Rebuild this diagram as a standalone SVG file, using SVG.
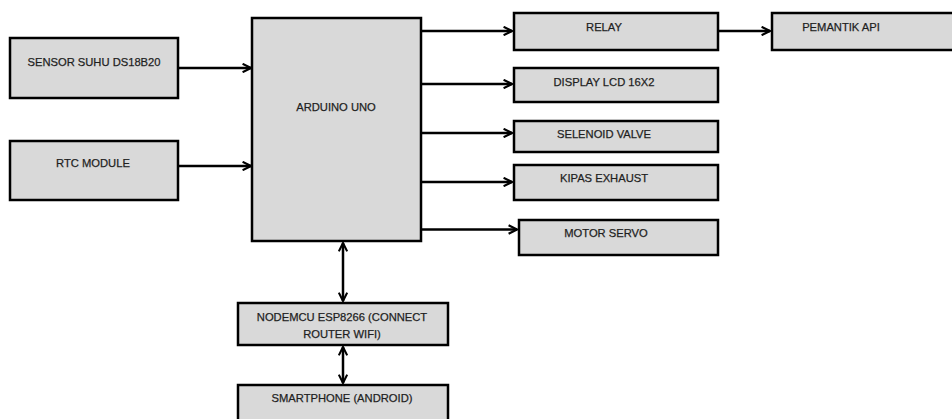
<svg xmlns="http://www.w3.org/2000/svg" width="952" height="419" viewBox="0 0 952 419">
<defs>
<style>
.box{fill:#d9d9d9;stroke:#000;stroke-width:2.5}
.lbl{font-family:"Liberation Sans",Arial,sans-serif;font-size:11.2px;fill:#1f1f1f;text-anchor:middle;stroke:#1f1f1f;stroke-width:0.25}
.con{stroke:#000;stroke-width:2.5;fill:none}
</style>
<marker id="ah" viewBox="0 0 10 10" refX="9" refY="5" markerWidth="4.2" markerHeight="4.2" orient="auto-start-reverse" markerUnits="strokeWidth">
<path d="M1,1 L9,5 L1,9" fill="none" stroke="#000" stroke-width="2"/>
</marker>
</defs>
<rect width="952" height="419" fill="#fff"/>
<g id="connectors">
<line class="con" x1="178" y1="68" x2="251" y2="68" marker-end="url(#ah)"/>
<line class="con" x1="178" y1="166" x2="251" y2="166" marker-end="url(#ah)"/>
<line class="con" x1="421" y1="31" x2="512" y2="31" marker-end="url(#ah)"/>
<line class="con" x1="421" y1="84" x2="512" y2="84" marker-end="url(#ah)"/>
<line class="con" x1="421" y1="133" x2="512" y2="133" marker-end="url(#ah)"/>
<line class="con" x1="421" y1="182" x2="512" y2="182" marker-end="url(#ah)"/>
<line class="con" x1="421" y1="229.5" x2="517" y2="229.5" marker-end="url(#ah)"/>
<line class="con" x1="718" y1="31" x2="770" y2="31" marker-end="url(#ah)"/>
<line class="con" x1="343" y1="243" x2="343" y2="301" marker-start="url(#ah)" marker-end="url(#ah)"/>
<line class="con" x1="343" y1="347" x2="343" y2="383" marker-start="url(#ah)" marker-end="url(#ah)"/>
</g>
<g id="sensor"><rect class="box" x="10" y="38" width="168" height="60"/><text class="lbl" x="94" y="66">SENSOR SUHU DS18B20</text></g>
<g id="rtc"><rect class="box" x="10" y="141" width="168" height="59"/><text class="lbl" x="93" y="167">RTC MODULE</text></g>
<g id="arduino"><rect class="box" x="252" y="18" width="169" height="223"/><text class="lbl" x="336" y="111">ARDUINO UNO</text></g>
<g id="relay"><rect class="box" x="514" y="13" width="204" height="37"/><text class="lbl" x="604" y="31">RELAY</text></g>
<g id="pemantik"><rect class="box" x="772" y="13" width="190" height="37"/><text class="lbl" x="841" y="31">PEMANTIK API</text></g>
<g id="lcd"><rect class="box" x="514" y="68" width="204" height="34"/><text class="lbl" x="604" y="86">DISPLAY LCD 16X2</text></g>
<g id="selenoid"><rect class="box" x="514" y="121" width="204" height="31"/><text class="lbl" x="604" y="138">SELENOID VALVE</text></g>
<g id="kipas"><rect class="box" x="514" y="165" width="204" height="35"/><text class="lbl" x="604" y="182">KIPAS EXHAUST</text></g>
<g id="servo"><rect class="box" x="519" y="220" width="199" height="35"/><text class="lbl" x="606" y="237">MOTOR SERVO</text></g>
<g id="nodemcu"><rect class="box" x="238" y="303" width="210" height="42"/><text class="lbl" x="342" y="321">NODEMCU ESP8266 (CONNECT</text><text class="lbl" x="342" y="338">ROUTER WIFI)</text></g>
<g id="smartphone"><rect class="box" x="238" y="385" width="210" height="40"/><text class="lbl" x="342" y="402">SMARTPHONE (ANDROID)</text></g>
</svg>
